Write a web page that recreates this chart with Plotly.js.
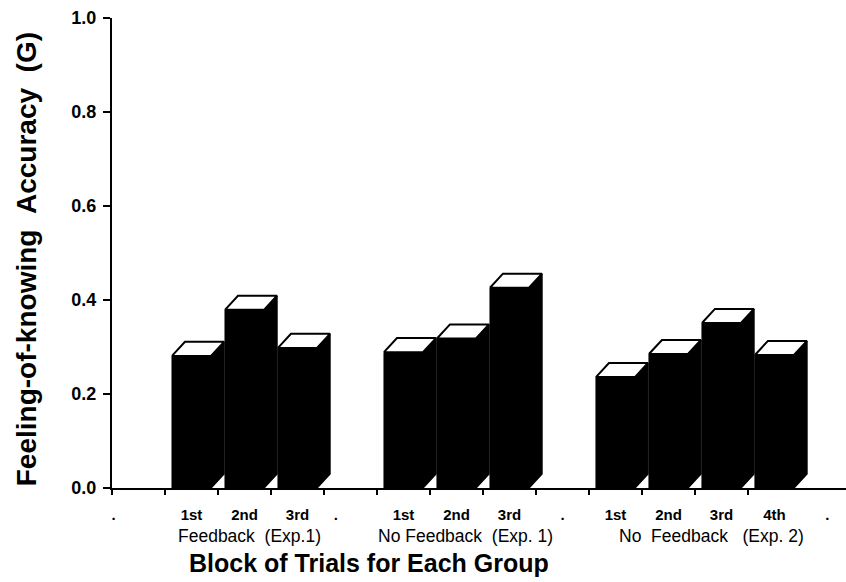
<!DOCTYPE html>
<html>
<head>
<meta charset="utf-8">
<script src="https://cdn.plot.ly/plotly-3.0.1.min.js"></script>
<style>
  html, body { margin: 0; padding: 0; background: #ffffff; }
  #chart { width: 846px; height: 582px; }
</style>
</head>
<body>
<div id="chart"></div>
<script>
// ---- data ----
const tickLabels = ['.', '1st', '2nd', '3rd', '.', '1st', '2nd', '3rd', '.', '1st', '2nd', '3rd', '4th', '.'];
const groupNames = ['Feedback  (Exp.1)', 'No Feedback  (Exp. 1)', 'No  Feedback   (Exp. 2)'];
const feedbackExp1   = [0.281, 0.379, 0.298];
const noFeedbackExp1 = [0.289, 0.318, 0.426];
const noFeedbackExp2 = [0.236, 0.285, 0.351, 0.283];
const seriesByGroup = [feedbackExp1, noFeedbackExp1, noFeedbackExp2];
const yTickValues = [0, 0.2, 0.4, 0.6, 0.8, 1.0];
const xTitle = 'Block of Trials for Each Group';
const yTitle = 'Feeling-of-knowing  Accuracy  (G)';

// ---- map values onto category slots ----
const xs = [], ys = [];
let g = -1, j = 0;
tickLabels.forEach((lab, i) => {
  if (lab === '.') { g++; j = 0; }
  else { xs.push(i); ys.push(seriesByGroup[g][j++]); }
});

// ---- pseudo-3D geometry (style) ----
const barW = 0.736;   // front face width in category units
const dx = 0.245;     // depth offset (x, category units)
const dy = 0.030;     // depth offset (y, value units)

const topX = [], topY = [], sideX = [], sideY = [];
xs.forEach((x, k) => {
  const v = ys[k];
  const xl = x - barW / 2, xr = x + barW / 2;
  topX.push(xl, xr, xr + dx, xl + dx, xl, null);
  topY.push(v, v, v + dy, v + dy, v, null);
  sideX.push(xr, xr + dx, xr + dx, xr, xr, null);
  sideY.push(0, dy, v + dy, v, 0, null);
});

const NB = '\u00a0';
const pad = (n) => NB.repeat(n);
const tickText = tickLabels.map((t, i) => {
  if (i === 0) return '.' + pad(12);
  if (i === 4) return '.' + pad(7);
  return t;
});

const FONT = 'Liberation Sans, Arial, Helvetica, sans-serif';

const traces = [
  {
    type: 'bar', x: xs, y: ys, width: barW,
    marker: { color: '#000000', line: { color: '#000000', width: 1 } },
    hoverinfo: 'skip', showlegend: false
  },
  {
    type: 'scatter', mode: 'lines', x: sideX, y: sideY,
    fill: 'toself', fillcolor: '#000000',
    line: { color: '#000000', width: 1.5 },
    hoverinfo: 'skip', showlegend: false
  },
  {
    type: 'scatter', mode: 'lines', x: topX, y: topY,
    fill: 'toself', fillcolor: '#ffffff',
    line: { color: '#000000', width: 2 },
    hoverinfo: 'skip', showlegend: false
  }
];

const groupX = [2.09, 6.17, 10.82];
const annotations = groupNames.map((name, i) => ({
  text: name.replace(/ /g, NB),
  x: groupX[i], xref: 'x', xanchor: 'center',
  y: -0.103, yref: 'paper', yanchor: 'middle',
  showarrow: false,
  font: { family: FONT, size: 17.5, color: '#000000' }
}));
annotations.push({
  text: xTitle,
  x: 0.35, xref: 'paper', xanchor: 'center',
  y: -0.16, yref: 'paper', yanchor: 'middle',
  showarrow: false,
  font: { family: FONT, size: 25, weight: 700, color: '#000000' }
});
annotations.push({
  text: yTitle.replace(/ /g, NB),
  x: -0.117, xref: 'paper', xanchor: 'center',
  y: 0.487, yref: 'paper', yanchor: 'middle',
  textangle: -90,
  showarrow: false,
  font: { family: FONT, size: 28, weight: 700, color: '#000000' }
});

const boundaries = tickLabels.slice(0, tickLabels.length - 1).map((_, i) => i - 0.5);

const layout = {
  width: 846, height: 582,
  margin: { l: 112, r: 0, t: 18, b: 94, pad: 0 },
  paper_bgcolor: '#ffffff', plot_bgcolor: '#ffffff',
  showlegend: false,
  bargap: 0,
  xaxis: {
    range: [-0.5, 13.35],
    tickmode: 'array',
    tickvals: tickLabels.map((_, i) => i),
    ticktext: tickText,
    ticks: '',
    showline: true, linecolor: '#000000', linewidth: 2,
    showgrid: false, zeroline: false,
    tickfont: { family: FONT, size: 15, weight: 700, color: '#000000' },
    ticklabelstandoff: 12,
    minor: {
      tickmode: 'array', tickvals: boundaries,
      ticks: 'outside', ticklen: 5, tickwidth: 2, tickcolor: '#000000',
      showgrid: false
    },
    fixedrange: true
  },
  yaxis: {
    range: [0, 1],
    tickmode: 'array',
    tickvals: yTickValues,
    ticktext: yTickValues.map(v => v.toFixed(1)),
    ticks: 'outside', ticklen: 7, tickwidth: 2, tickcolor: '#000000',
    showline: true, linecolor: '#000000', linewidth: 2,
    showgrid: false, zeroline: false,
    tickfont: { family: FONT, size: 18, weight: 700, color: '#000000' },
    ticklabelstandoff: 3,
    fixedrange: true
  },
  annotations: annotations
};

Plotly.newPlot('chart', traces, layout, { displayModeBar: false, staticPlot: true });
</script>
</body>
</html>
